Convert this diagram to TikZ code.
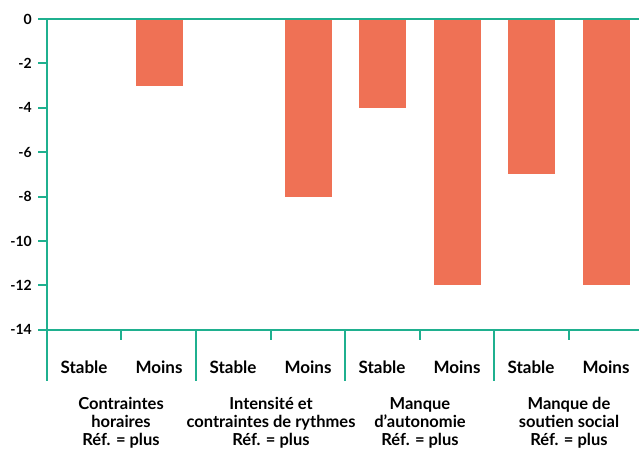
\documentclass[tikz,border=0pt]{standalone}
\usepackage{fontspec}
\setmainfont{Lato}
\definecolor{axisgreen}{HTML}{1FB08F}
\definecolor{barorange}{HTML}{EF7155}
\tikzset{
    axisline/.style={draw=axisgreen, line width=2pt},
    bar/.style={fill=barorange},
    ticklabel/.style={anchor=east, font=\bfseries\fontsize{14}{16}\selectfont, inner sep=0pt},
    sublabel/.style={font=\bfseries\fontsize{17}{19}\selectfont, inner sep=0pt},
    grouplabel/.style={anchor=north, align=center, inner sep=0pt,
        font=\bfseries\fontsize{16.5}{18}\selectfont}
}
\begin{document}
\begin{tikzpicture}[x=1pt, y=-1pt]
    \useasboundingbox (0,0) rectangle (639,448);
    \begin{scope}[yshift=-19pt, y=22.2pt]
        % Bars
        \foreach \x/\v in {159/-3, 308/-8, 382/-4, 457/-12, 531/-7, 606/-12}
        {
            \fill[bar] (\x-23.5,0) rectangle (\x+23.5,\v);
        }
        % Tick marks and values
        \foreach \v in {0,-2,...,-14}
        {
            \draw[axisline] (38,\v) -- (47,\v);
            \node[ticklabel] (tick\v) at (32,\v) {\v};
        }
        % Zero line and bottom line
        \draw[axisline] (47,0) -- (639,0);
        \draw[axisline] (47,-14) -- (639,-14);
    \end{scope}
    % Vertical axis
    \draw[axisline] (47,19) -- (47,381);
    % Group separators
    \foreach \x in {196,345,494}
    {
        \draw[axisline] (\x,330) -- (\x,381);
    }
    % Minor ticks between Stable and Moins
    \foreach \x in {121,271,420,569}
    {
        \draw[axisline] (\x,330) -- (\x,340);
    }
    % Stable / Moins
    \foreach \x/\t in {84/Stable, 159/Moins, 233/Stable, 308/Moins, 382/Stable, 457/Moins, 531/Stable, 606/Moins}
    {
        \node[sublabel] (sub\x) at (\x,367) {\t};
    }
    % Group names
    \node[grouplabel] (horaires) at (121,397) {Contraintes\\horaires\\Réf. = plus};
    \node[grouplabel] (rythmes) at (271,397) {Intensité et\\contraintes de rythmes\\Réf. = plus};
    \node[grouplabel] (autonomie) at (420,397) {Manque\\d’autonomie\\Réf. = plus};
    \node[grouplabel] (soutien) at (569,397) {Manque de\\soutien social\\Réf. = plus};
\end{tikzpicture}
\end{document}
